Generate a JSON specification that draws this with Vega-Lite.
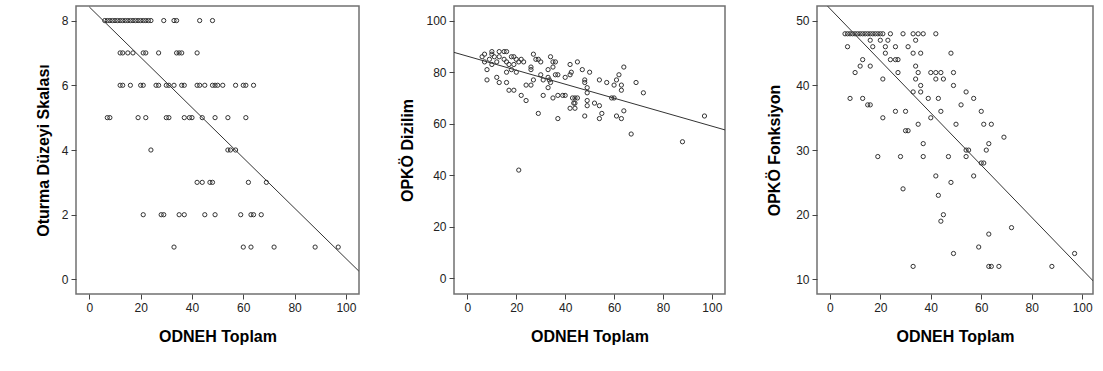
{
  "$schema": "https://vega.github.io/schema/vega-lite/v6.json",
  "padding": {"left": 34, "top": 5, "right": 0, "bottom": 0},
  "background": "white",
  "spacing": 39,
  "config": {
    "font": "Liberation Sans",
    "view": {"stroke": "#707070", "strokeWidth": 1.5},
    "axis": {
      "grid": false,
      "domain": false,
      "tickColor": "#444",
      "tickSize": 5,
      "labelPadding": 3,
      "labelFont": "Liberation Sans",
      "labelFontSize": 12,
      "labelColor": "#222",
      "titleFont": "Liberation Sans",
      "titleFontSize": 16,
      "titleFontWeight": "bold",
      "titleColor": "#000"
    },
    "axisX": {"titlePadding": 15},
    "axisY": {"titlePadding": 10}
  },
  "datasets": {
    "p1": [
      {"x":6,"y":8},{"x":7,"y":8},{"x":8,"y":8},{"x":9,"y":8},{"x":10,"y":8},{"x":11,"y":8},{"x":12,"y":8},{"x":13,"y":8},{"x":14,"y":8},{"x":15,"y":8},{"x":16,"y":8},{"x":17,"y":8},{"x":18,"y":8},{"x":19,"y":8},{"x":20,"y":8},{"x":21,"y":8},{"x":22,"y":8},{"x":23,"y":8},{"x":24,"y":8},{"x":29,"y":8},{"x":33,"y":8},{"x":34,"y":8},{"x":43,"y":8},{"x":48,"y":8},
      {"x":12,"y":7},{"x":13,"y":7},{"x":15,"y":7},{"x":17,"y":7},{"x":21,"y":7},{"x":22,"y":7},{"x":27,"y":7},{"x":34,"y":7},{"x":35,"y":7},{"x":36,"y":7},{"x":42,"y":7},
      {"x":12,"y":6},{"x":13,"y":6},{"x":16,"y":6},{"x":20,"y":6},{"x":21,"y":6},{"x":26,"y":6},{"x":27,"y":6},{"x":30,"y":6},{"x":31,"y":6},{"x":33,"y":6},{"x":36,"y":6},{"x":37,"y":6},{"x":42,"y":6},{"x":43,"y":6},{"x":45,"y":6},{"x":48,"y":6},{"x":49,"y":6},{"x":50,"y":6},{"x":52,"y":6},{"x":57,"y":6},{"x":60,"y":6},{"x":61,"y":6},{"x":64,"y":6},
      {"x":7,"y":5},{"x":8,"y":5},{"x":19,"y":5},{"x":22,"y":5},{"x":30,"y":5},{"x":31,"y":5},{"x":37,"y":5},{"x":39,"y":5},{"x":40,"y":5},{"x":44,"y":5},{"x":49,"y":5},{"x":54,"y":5},{"x":61,"y":5},
      {"x":24,"y":4},{"x":54,"y":4},{"x":55,"y":4},{"x":57,"y":4},
      {"x":42,"y":3},{"x":44,"y":3},{"x":47,"y":3},{"x":48,"y":3},{"x":62,"y":3},{"x":69,"y":3},
      {"x":21,"y":2},{"x":28,"y":2},{"x":29,"y":2},{"x":35,"y":2},{"x":37,"y":2},{"x":45,"y":2},{"x":49,"y":2},{"x":59,"y":2},{"x":63,"y":2},{"x":64,"y":2},{"x":67,"y":2},
      {"x":33,"y":1},{"x":60,"y":1},{"x":63,"y":1},{"x":72,"y":1},{"x":88,"y":1},{"x":97,"y":1}
    ],
    "l1": [{"x":0,"y":8.42},{"x":105,"y":0.26}],
    "p2": [
      {"x":6,"y":86},{"x":7,"y":87},{"x":7,"y":84},{"x":8,"y":81},{"x":8,"y":77},{"x":9,"y":85},{"x":10,"y":87},{"x":10,"y":88},{"x":11,"y":86},{"x":10,"y":83},{"x":12,"y":84},{"x":12,"y":78},{"x":13,"y":88},{"x":13,"y":86},{"x":13,"y":76},{"x":15,"y":88},{"x":15,"y":85},{"x":16,"y":88},{"x":16,"y":80},{"x":16,"y":76},{"x":16,"y":84},{"x":17,"y":73},{"x":17,"y":83},{"x":18,"y":81},{"x":18,"y":86},{"x":19,"y":73},{"x":19,"y":86},{"x":19,"y":83},{"x":20,"y":80},{"x":20,"y":85},{"x":21,"y":84},{"x":22,"y":85},{"x":21,"y":42},{"x":22,"y":71},{"x":23,"y":84},{"x":24,"y":69},{"x":24,"y":75},{"x":26,"y":75},{"x":26,"y":82},{"x":26,"y":81},{"x":27,"y":87},{"x":27,"y":77},{"x":28,"y":85},{"x":29,"y":85},{"x":29,"y":64},{"x":30,"y":84},{"x":30,"y":79},{"x":31,"y":77},{"x":31,"y":71},{"x":33,"y":81},{"x":33,"y":78},{"x":33,"y":74},{"x":33.5,"y":77},{"x":34,"y":86},{"x":34,"y":76},{"x":35,"y":84},{"x":35,"y":82},{"x":35,"y":70},{"x":36,"y":84},{"x":36,"y":79},{"x":37,"y":79},{"x":37,"y":62},{"x":37,"y":71},{"x":39,"y":71},{"x":40,"y":71},{"x":40,"y":78},{"x":42,"y":83},{"x":42,"y":79},{"x":42,"y":66},{"x":42.5,"y":80},{"x":43,"y":70},{"x":43.5,"y":68},{"x":44,"y":66},{"x":44,"y":70},{"x":44,"y":68},{"x":45,"y":84},{"x":45,"y":70},{"x":47,"y":81},{"x":48,"y":77},{"x":48,"y":76},{"x":48,"y":63},{"x":49,"y":74},{"x":49,"y":72},{"x":49,"y":69},{"x":49,"y":67},{"x":50,"y":80},{"x":52,"y":68},{"x":54,"y":77},{"x":54,"y":67},{"x":54,"y":62},{"x":55,"y":64},{"x":57,"y":76},{"x":59,"y":70},{"x":60,"y":75},{"x":60,"y":70},{"x":61,"y":77},{"x":61,"y":63},{"x":62,"y":79},{"x":63,"y":75},{"x":63,"y":73},{"x":63,"y":62},{"x":64,"y":82},{"x":64,"y":65},{"x":67,"y":56},{"x":69,"y":76},{"x":72,"y":72},{"x":88,"y":53},{"x":97,"y":63}
    ],
    "l2": [{"x":-5.5,"y":87.7},{"x":105.4,"y":57.6}],
    "p3": [
      {"x":6,"y":48},{"x":7,"y":48},{"x":8,"y":48},{"x":9,"y":48},{"x":10,"y":48},{"x":11,"y":48},{"x":12,"y":48},{"x":13,"y":48},{"x":14,"y":48},{"x":15,"y":48},{"x":16,"y":48},{"x":17,"y":48},{"x":18,"y":48},{"x":19,"y":48},{"x":20,"y":48},{"x":21,"y":48},{"x":24,"y":48},{"x":29,"y":48},{"x":33,"y":48},{"x":35,"y":48},{"x":37,"y":48},{"x":42,"y":48},
      {"x":16,"y":47},{"x":20,"y":47},{"x":23,"y":47},{"x":34,"y":47},
      {"x":7,"y":46},{"x":17,"y":46},{"x":22,"y":46},{"x":26,"y":46},{"x":31,"y":46},
      {"x":22,"y":45},{"x":33,"y":45},{"x":36,"y":45},{"x":48,"y":45},
      {"x":13,"y":44},{"x":24,"y":44},{"x":26,"y":44},{"x":27,"y":44},
      {"x":12,"y":43},{"x":16,"y":43},{"x":34,"y":43},
      {"x":10,"y":42},{"x":27,"y":42},{"x":35,"y":42},{"x":40,"y":42},{"x":42,"y":42},{"x":44,"y":42},{"x":49,"y":42},
      {"x":21,"y":41},{"x":34,"y":41},{"x":42,"y":41},{"x":45,"y":41},
      {"x":36,"y":40},{"x":49,"y":40},
      {"x":33,"y":39},{"x":36,"y":39},{"x":54,"y":39},
      {"x":8,"y":38},{"x":13,"y":38},{"x":39,"y":38},{"x":43,"y":38},{"x":57,"y":38},
      {"x":15,"y":37},{"x":16,"y":37},{"x":52,"y":37},
      {"x":26,"y":36},{"x":30,"y":36},{"x":44,"y":36},{"x":60,"y":36},
      {"x":21,"y":35},{"x":40,"y":35},
      {"x":35,"y":34},{"x":50,"y":34},{"x":61,"y":34},{"x":64,"y":34},
      {"x":30,"y":33},{"x":31,"y":33},
      {"x":69,"y":32},
      {"x":37,"y":31},{"x":63,"y":31},
      {"x":54,"y":30},{"x":55,"y":30},{"x":62,"y":30},
      {"x":19,"y":29},{"x":28,"y":29},{"x":37,"y":29},{"x":47,"y":29},{"x":54,"y":29},
      {"x":60,"y":28},{"x":61,"y":28},
      {"x":42,"y":26},{"x":57,"y":26},
      {"x":48,"y":25},
      {"x":29,"y":24},
      {"x":43,"y":23},
      {"x":45,"y":20},
      {"x":44,"y":19},
      {"x":72,"y":18},
      {"x":63,"y":17},
      {"x":59,"y":15},
      {"x":49,"y":14},{"x":97,"y":14},
      {"x":33,"y":12},{"x":63,"y":12},{"x":64,"y":12},{"x":67,"y":12},{"x":88,"y":12}
    ],
    "l3": [{"x":-0.9,"y":52.27},{"x":104.4,"y":9.74}]
  },
  "hconcat": [
    {
      "width": 283,
      "height": 288,
      "layer": [
        {
          "data": {"name": "p1"},
          "mark": {"type": "point", "shape": "circle", "filled": false, "size": 18, "stroke": "#333", "strokeWidth": 1, "opacity": 1},
          "encoding": {
            "x": {"field": "x", "type": "quantitative", "scale": {"domain": [-5.2, 105.1], "nice": false, "zero": false}, "axis": {"values": [0, 20, 40, 60, 80, 100]}, "title": "ODNEH Toplam"},
            "y": {"field": "y", "type": "quantitative", "scale": {"domain": [-0.45, 8.45], "nice": false, "zero": false}, "axis": {"values": [0, 2, 4, 6, 8]}, "title": "Oturma Düzeyi Skalası"}
          }
        },
        {
          "data": {"name": "l1"},
          "mark": {"type": "line", "color": "#333", "strokeWidth": 1, "clip": true},
          "encoding": {
            "x": {"field": "x", "type": "quantitative"},
            "y": {"field": "y", "type": "quantitative"}
          }
        }
      ]
    },
    {
      "width": 271,
      "height": 288,
      "layer": [
        {
          "data": {"name": "p2"},
          "mark": {"type": "point", "shape": "circle", "filled": false, "size": 18, "stroke": "#333", "strokeWidth": 1, "opacity": 1},
          "encoding": {
            "x": {"field": "x", "type": "quantitative", "scale": {"domain": [-5.5, 105.4], "nice": false, "zero": false}, "axis": {"values": [0, 20, 40, 60, 80, 100]}, "title": "ODNEH Toplam"},
            "y": {"field": "y", "type": "quantitative", "scale": {"domain": [-6.1, 105.7], "nice": false, "zero": false}, "axis": {"values": [0, 20, 40, 60, 80, 100]}, "title": "OPKÖ Dizilim"}
          }
        },
        {
          "data": {"name": "l2"},
          "mark": {"type": "line", "color": "#333", "strokeWidth": 1, "clip": true},
          "encoding": {
            "x": {"field": "x", "type": "quantitative"},
            "y": {"field": "y", "type": "quantitative"}
          }
        }
      ]
    },
    {
      "width": 276,
      "height": 288,
      "layer": [
        {
          "data": {"name": "p3"},
          "mark": {"type": "point", "shape": "circle", "filled": false, "size": 18, "stroke": "#333", "strokeWidth": 1, "opacity": 1},
          "encoding": {
            "x": {"field": "x", "type": "quantitative", "scale": {"domain": [-5.1, 104.3], "nice": false, "zero": false}, "axis": {"values": [0, 20, 40, 60, 80, 100]}, "title": "ODNEH Toplam"},
            "y": {"field": "y", "type": "quantitative", "scale": {"domain": [7.73, 52.3], "nice": false, "zero": false}, "axis": {"values": [10, 20, 30, 40, 50], "titlePadding": 13}, "title": "OPKÖ Fonksiyon"}
          }
        },
        {
          "data": {"name": "l3"},
          "mark": {"type": "line", "color": "#333", "strokeWidth": 1, "clip": true},
          "encoding": {
            "x": {"field": "x", "type": "quantitative"},
            "y": {"field": "y", "type": "quantitative"}
          }
        }
      ]
    }
  ]
}
